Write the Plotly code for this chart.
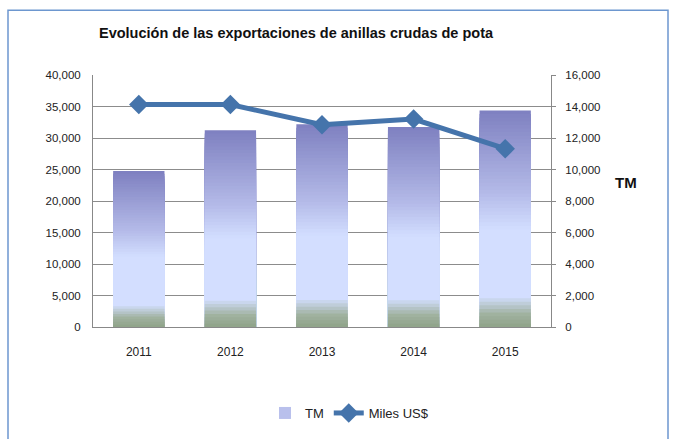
import plotly.graph_objects as go

years = ["2011", "2012", "2013", "2014", "2015"]
tm = [9900, 12500, 12870, 12700, 13750]          # TM (right axis)
miles_usd = [35300, 35300, 32100, 33000, 28300]  # Miles US$ (left axis)

left_ticks = [0, 5000, 10000, 15000, 20000, 25000, 30000, 35000, 40000]
right_ticks = [0, 2000, 4000, 6000, 8000, 10000, 12000, 14000, 16000]

FONT = "Liberation Sans, Arial, sans-serif"

# gradient stops (fraction of bar height from bottom -> colour)
stops = [(0.0, (143, 163, 136)), (0.06, (160, 178, 160)), (0.14, (211, 222, 255)),
         (0.45, (211, 222, 255)), (0.62, (180, 186, 232)), (1.0, (126, 128, 192))]

def col_at(f):
    for (f0, c0), (f1, c1) in zip(stops[:-1], stops[1:]):
        if f0 <= f <= f1:
            t = (f - f0) / (f1 - f0) if f1 > f0 else 0
            c = [round(a + (b - a) * t) for a, b in zip(c0, c1)]
            return "rgb(%d,%d,%d)" % tuple(c)
    return "rgb(%d,%d,%d)" % stops[-1][1]

fig = go.Figure()
N = 60
for i in range(N, 0, -1):
    f = i / N
    fig.add_trace(go.Bar(
        x=years, y=[v * f for v in tm], yaxis="y", width=0.56,
        marker=dict(color=col_at(f - 0.5 / N), line=dict(width=0)),
        name="TM", showlegend=(i == 36), hoverinfo="skip",
    ))

fig.add_trace(go.Scatter(
    x=years, y=miles_usd, yaxis="y2", mode="lines+markers", name="Miles US$",
    line=dict(color="#4574AB", width=5),
    marker=dict(symbol="diamond", size=15, color="#4574AB"),
))

fig.update_layout(
    width=673, height=439, barmode="overlay",
    margin=dict(l=93, r=122, t=75, b=111),
    paper_bgcolor="white", plot_bgcolor="white",
    font=dict(family=FONT, size=11.5, color="#222"),
    showlegend=True,
    legend=dict(orientation="h", x=0.56, xanchor="center", y=-0.336, yanchor="middle",
                font=dict(size=13), traceorder="normal"),
    xaxis=dict(showline=True, linecolor="#888", linewidth=1, ticks="", showgrid=False,
               tickfont=dict(size=12), ticklabelstandoff=14),
    yaxis=dict(range=[0, 16000], tickvals=right_ticks, tickformat=",d", side="right",
               showgrid=True, gridcolor="#8c8c8c", gridwidth=1, showline=True,
               linecolor="#888", ticks="outside", ticklen=4, tickcolor="#888",
               zeroline=False, tickfont=dict(size=11.5), ticklabelstandoff=7),
    yaxis2=dict(range=[0, 40000], tickvals=left_ticks, tickformat=",d", overlaying="y",
                side="left", showgrid=False, showline=True, linecolor="#888",
                ticks="", zeroline=False, tickfont=dict(size=11.5), ticklabelstandoff=9),
    annotations=[
        dict(text="<b>Evolución de las exportaciones de anillas crudas de pota</b>",
             xref="paper", yref="paper", x=(97 - 93) / 458, y=1 + (75 - 33) / 253,
             xanchor="left", yanchor="middle", showarrow=False,
             font=dict(size=14.5, family=FONT, color="#111")),
        dict(text="<b>TM</b>", xref="paper", yref="paper", x=(626 - 93) / 458,
             y=(328 - 183) / 253, xanchor="center", yanchor="middle", showarrow=False,
             font=dict(size=15, family=FONT, color="#111")),
    ],
    shapes=[dict(type="rect", xref="paper", yref="paper",
                 x0=(8 - 93) / 458, x1=(668 - 93) / 458,
                 y0=(328 - 450) / 253, y1=1 + (75 - 10) / 253,
                 line=dict(color="#6d97cf", width=1.5), fillcolor="rgba(0,0,0,0)",
                 layer="below")],
)

fig.write_html("out.html", config={"displayModeBar": False},
               post_script="document.body.style.margin='0';")
